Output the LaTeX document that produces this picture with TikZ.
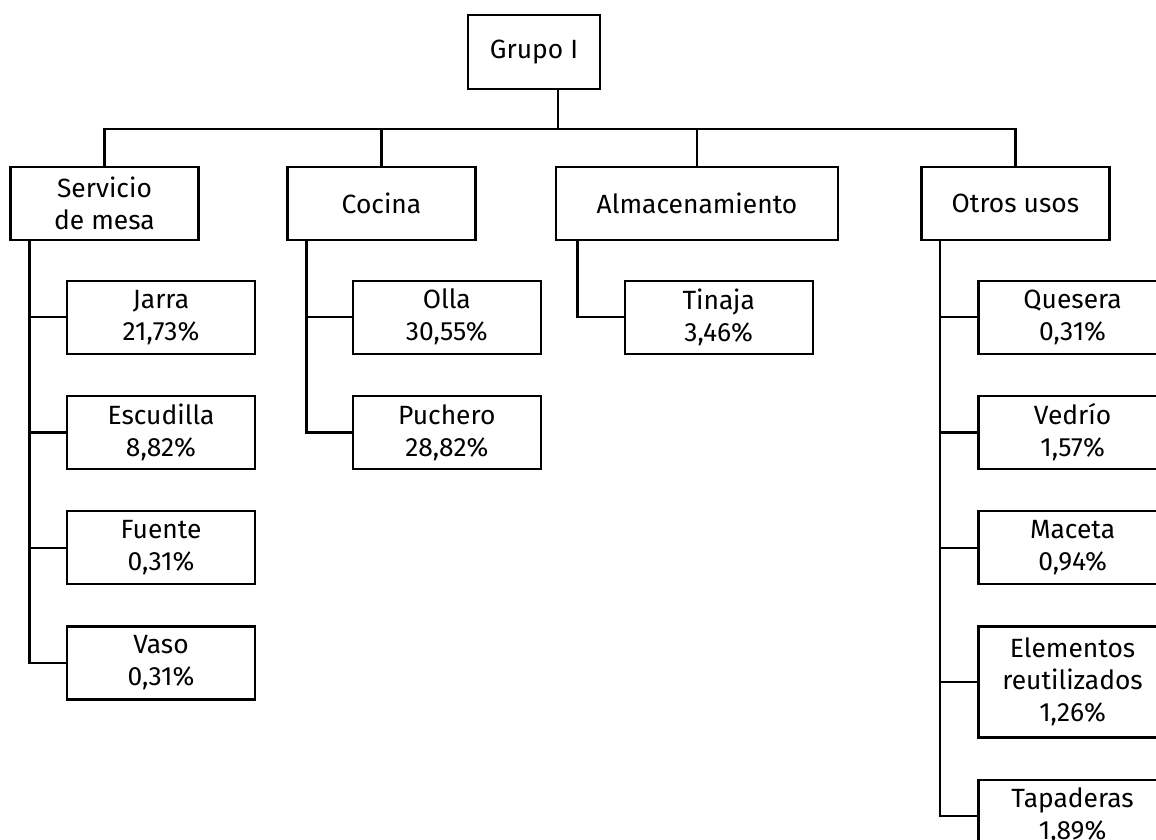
\documentclass[tikz,border=0pt]{standalone}
\usepackage{fontspec}
\setmainfont{Fira Sans}
\usetikzlibrary{positioning}
\tikzset{
  box/.style={draw, line width=1.7pt, align=center, inner sep=0pt,
    minimum width=141pt, minimum height=54.75pt,
    font=\fontsize{19.8}{24}\selectfont},
  wire/.style={line width=1.7pt}
}
\begin{document}
\begin{tikzpicture}[x=0.75pt,y=-0.75pt]
\useasboundingbox (0,0) rectangle (1156,839);
\clip (0,0) rectangle (1156,839);
\node[box, minimum width=99pt, minimum height=55.5pt] (grupo) at (534,52) {Grupo I};
\node[box] (serv) at (104.5,203.5) {Servicio\\de mesa};
\node[box] (coc) at (381.5,203.5) {Cocina};
\node[box, minimum width=211.5pt] (alm) at (697,203.5) {Almacenamiento};
\node[box] (otros) at (1015.4,203.5) {Otros usos};
\node[box] (jarra) at (161,317.2) {Jarra\\21,73\%};
\node[box, below=30pt of jarra] (escudilla) {Escudilla\\8,82\%};
\node[box, below=30pt of escudilla] (fuente) {Fuente\\0,31\%};
\node[box, below=30pt of fuente] (vaso) {Vaso\\0,31\%};
\node[box] (olla) at (446.8,317.2) {Olla\\30,55\%};
\node[box, below=30pt of olla] (puchero) {Puchero\\28,82\%};
\node[box] (tinaja) at (718.7,317.2) {Tinaja\\3,46\%};
\node[box] (quesera) at (1072.6,317.2) {Quesera\\0,31\%};
\node[box, below=30pt of quesera] (vedrio) {Vedrío\\1,57\%};
\node[box, below=30pt of vedrio] (maceta) {Maceta\\0,94\%};
\node[box, below=30pt of maceta, minimum height=83.25pt] (elem) {Elementos\\reutilizados\\1,26\%};
\node[box, below=30pt of elem] (tapa) {Tapaderas\\1,89\%};
\coordinate (bus) at (558,129);
\draw[wire] (grupo.south -| bus) -- (bus);
\draw[wire] (serv.north) -- (serv.north |- bus) -| (otros.north);
\draw[wire] (coc.north) -- (coc.north |- bus);
\draw[wire] (alm.north) -- (alm.north |- bus);
\coordinate (st) at ([xshift=15pt]serv.south west);
\coordinate (ct) at ([xshift=15pt]coc.south west);
\coordinate (at) at ([xshift=17pt]alm.south west);
\coordinate (ot) at ([xshift=15pt]otros.south west);
\draw[wire] (st) |- (vaso.west);
\foreach \n in {jarra,escudilla,fuente} \draw[wire] (\n.west) -- (\n.west -| st);
\draw[wire] (ct) |- (puchero.west);
\draw[wire] (olla.west) -- (olla.west -| ct);
\draw[wire] (at) |- (tinaja.west);
\draw[wire] (ot) |- (tapa.west);
\foreach \n in {quesera,vedrio,maceta,elem} \draw[wire] (\n.west) -- (\n.west -| ot);
\end{tikzpicture}
\end{document}
